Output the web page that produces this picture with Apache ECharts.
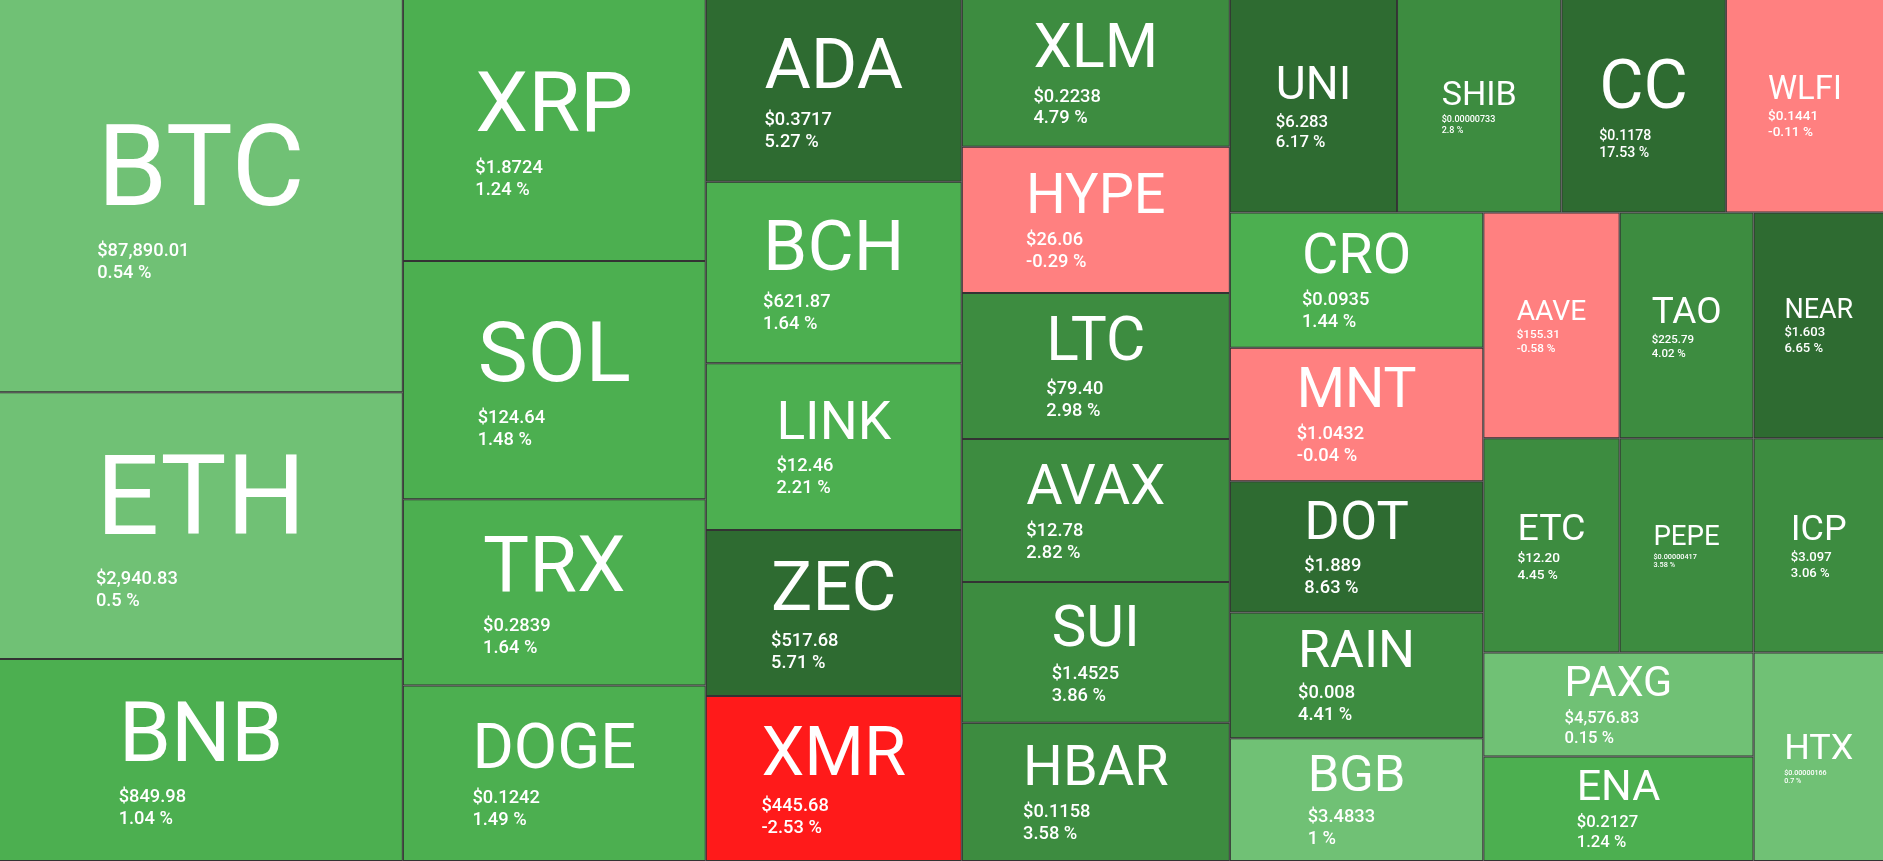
<!DOCTYPE html>
<html>
<head>
<meta charset="utf-8">
<script src="https://cdn.jsdelivr.net/npm/echarts@6/dist/echarts.min.js"></script>
<style>
html,body{margin:0;padding:0;background:#ffffff;overflow:hidden}
#chart{width:1883px;height:861px}
</style>
</head>
<body>
<div id="chart"></div>
<script>
// ---- data (layout order) ----
const symbols = ['BTC','ETH','BNB','XRP','SOL','TRX','DOGE','ADA','BCH','LINK','ZEC','XMR',
  'XLM','HYPE','LTC','AVAX','SUI','HBAR','UNI','SHIB','CC','WLFI','CRO','MNT','DOT','RAIN','BGB',
  'AAVE','TAO','NEAR','ETC','PEPE','ICP','PAXG','ENA','HTX'];
// relative tile weights (areas)
const weights = [1098.7, 745.9, 564.5, 549.4, 499.0, 390.6, 367.9, 323.8, 321.6, 295.2, 294.4, 292.2,
  274.3, 271.0, 271.0, 265.4, 260.9, 256.5, 247.0, 242.9, 242.9, 233.7, 237.1, 234.3, 230.1, 220.6, 215.5,
  212.9, 209.1, 203.7, 202.1, 198.5, 193.4, 194.7, 195.4, 188.3];
const prices = ['87,890.01','2,940.83','849.98','1.8724','124.64','0.2839','0.1242','0.3717','621.87','12.46','517.68','445.68',
  '0.2238','26.06','79.40','12.78','1.4525','0.1158','6.283','0.00000733','0.1178','0.1441','0.0935','1.0432','1.889','0.008','3.4833',
  '155.31','225.79','1.603','12.20','0.00000417','3.097','4,576.83','0.2127','0.00000166'];
const changes = [0.54, 0.5, 1.04, 1.24, 1.48, 1.64, 1.49, 5.27, 1.64, 2.21, 5.71, -2.53,
  4.79, -0.29, 2.98, 2.82, 3.86, 3.58, 6.17, 2.8, 17.53, -0.11, 1.44, -0.04, 8.63, 4.41, 1,
  -0.58, 4.02, 6.65, 4.45, 3.58, 3.06, 0.15, 1.24, 0.7];

// ---- style rules ----
function tileColor(c) {
  if (c < -2.5) return '#FF1A1A';
  if (c < -1) return '#FF4D4D';
  if (c < 0) return '#FF8080';
  if (c <= 1) return '#70C175';
  if (c <= 2.5) return '#4CAF50';
  if (c <= 5) return '#3D8C40';
  return '#2E6B31';
}
const FONT = 'Roboto';
const BORDER = 1;
const priceText = i => '$' + prices[i];
const pctText = i => changes[i] + ' %';

const chart = echarts.init(document.getElementById('chart'), null, {renderer: 'canvas'});

function buildData(sizes) {
  return symbols.map((s, i) => {
    const item = {name: s, value: weights[i], itemStyle: {color: tileColor(changes[i])}};
    if (sizes && sizes[s]) item.label = sizes[s];
    return item;
  });
}

const option = {
  animation: false,
  tooltip: {show: false},
  series: [{
    type: 'treemap',
    left: -1, top: -1, width: 1885, height: 862,
    roam: false,
    nodeClick: false,
    sort: false,
    visibleMin: 0,
    squareRatio: 0.5 * (1 + Math.sqrt(5)),
    breadcrumb: {show: false},
    emphasis: {disabled: true},
    levels: [
      {itemStyle: {borderWidth: 0, gapWidth: 0}},
      {itemStyle: {borderWidth: BORDER, borderColor: '#333333', gapWidth: 0}}
    ],
    label: {
      show: true,
      position: [0, 0],
      align: 'left',
      verticalAlign: 'top',
      padding: 0,
      overflow: 'none',
      formatter: p => {
        const i = symbols.indexOf(p.name);
        return '{s|' + symbols[i] + '}\n{p|' + priceText(i) + '}\n{q|' + pctText(i) + '}';
      }
    },
    data: buildData(null)
  }]
};
chart.setOption(option);

// ---- second pass: size labels from the library's own tile layout ----
const ctx = document.createElement('canvas').getContext('2d');
function textW(t, size, weight) { ctx.font = (weight || 'normal') + ' ' + size + 'px ' + FONT; return ctx.measureText(t).width; }

const sm = chart.getModel().getSeriesByIndex(0);
let root = sm.getViewRoot && sm.getViewRoot();
if (!root) root = sm.getData().tree.root;
const labelCfg = {};
root.children.forEach(n => {
  const lay = n.getLayout();
  if (!lay) return;
  const i = symbols.indexOf(n.name);
  const cw = lay.width - 2 * BORDER, ch = lay.height - 2 * BORDER;
  const sym = symbols[i], pt = priceText(i), qt = pctText(i);
  const F1 = Math.min(0.84 * cw / sym.length, 0.42 * ch);
  const F2 = Math.min(18.3, 0.61 * cw / pt.length, 0.163 * ch);
  const L1 = 1.17 * F1 - 4, L2 = 1.2 * F2;
  const blockH = L1 + 2 * L2;
  const blockW = Math.max(textW(sym, F1), textW(pt, F2, 500), textW(qt, F2, 500));
  const px = (cw - blockW) / 2;
  const py = (ch - blockH) / 2 + 0.008 * ch;
  labelCfg[n.name] = {
    position: [px, py],
    rich: {
      s: {fontFamily: FONT, fontSize: F1, lineHeight: L1, color: '#ffffff', align: 'left'},
      p: {fontFamily: FONT, fontSize: F2, fontWeight: 500, lineHeight: L2, color: '#ffffff', align: 'left'},
      q: {fontFamily: FONT, fontSize: F2, fontWeight: 500, lineHeight: L2, color: '#ffffff', align: 'left'}
    }
  };
});
chart.setOption({series: [{data: buildData(labelCfg)}]});
</script>
</body>
</html>
